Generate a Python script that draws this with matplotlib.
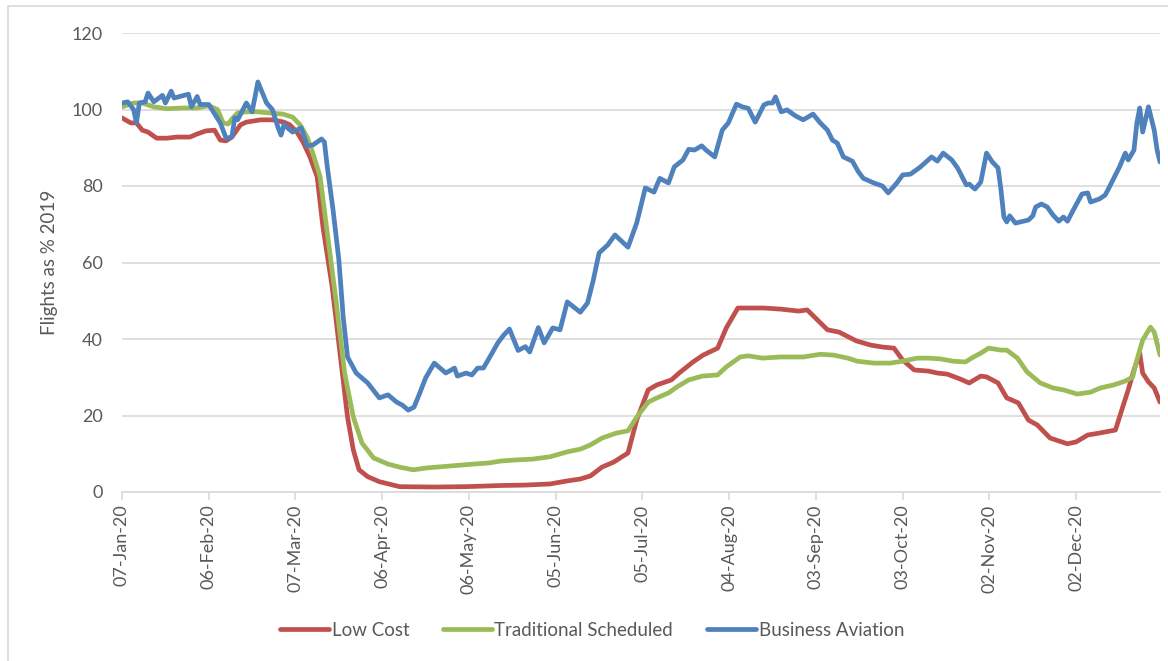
import numpy as np
import pandas as pd
import matplotlib
matplotlib.use("Agg")
import matplotlib.pyplot as plt
import matplotlib.dates as mdates
from matplotlib.patches import Rectangle

plt.rcParams['font.family'] = ['Lato', 'DejaVu Sans']

start = pd.Timestamp("2020-01-07")

# days after 07-Jan-20, values as % of 2019 flights
low_days = [0, 3, 5, 7, 9, 12, 15.5, 19, 23.5, 26, 29, 32, 34, 36, 38, 41, 43, 48, 52, 56,
            58, 60.5, 62.6, 65, 67.5, 69.5, 72.7, 75.4, 78, 80, 82, 85, 89, 96, 108, 119,
            131, 139, 148, 154, 158.5, 162, 166, 170, 175, 178, 182, 185, 190, 193, 197.5,
            201, 206, 209, 213, 222, 228, 234, 237, 240.5, 244, 248, 254, 259, 263, 267,
            270, 274, 279, 282, 285.5, 290, 293, 297, 299, 303, 306, 310, 313.5, 316.6,
            321, 327, 330, 334, 338, 343.6, 345, 348, 350, 352, 353, 355, 357, 359]
low_vals = [97.8, 96.5, 96.5, 94.6, 94.1, 92.5, 92.5, 92.8, 92.8, 93.6, 94.4, 94.6, 92.0,
            91.8, 92.8, 96.0, 96.7, 97.3, 97.3, 96.7, 96.0, 94.1, 91.5, 87.6, 82.4, 69.3,
            53.6, 36.3, 19.6, 11.0, 5.8, 4.0, 2.7, 1.4, 1.3, 1.4, 1.7, 1.8, 2.1, 2.9, 3.4,
            4.2, 6.5, 7.8, 10.2, 18.8, 26.7, 28.0, 29.3, 31.3, 34.0, 35.8, 37.6, 42.9, 48.1,
            48.1, 47.8, 47.3, 47.6, 45.0, 42.4, 41.8, 39.5, 38.4, 37.9, 37.6, 34.5, 31.9,
            31.6, 31.1, 30.8, 29.5, 28.5, 30.3, 30.1, 28.5, 24.6, 23.3, 18.8, 17.5, 14.1,
            12.6, 13.1, 14.9, 15.4, 16.2, 19.6, 26.7, 31.9, 36.3, 31.1, 28.8, 27.2, 23.5]

trad_days = [0, 4, 7, 11, 15.5, 21, 26, 30, 33, 35, 36.7, 38, 40, 43, 46.7, 51, 55.7, 59,
             61.6, 64, 66, 68.5, 71, 74, 77, 80, 83, 87, 92, 96, 100.7, 105.5, 113.5, 121.5,
             127, 131, 136.7, 142, 148, 154, 158.5, 162, 166, 171, 175, 178.5, 182, 185,
             189, 192, 196, 200.7, 206, 209, 213.8, 216.6, 221.5, 227.7, 235.6, 241.5, 246,
             251, 254.3, 260, 265.7, 270, 275, 279, 283, 287.5, 291.7, 294.5, 297, 299.7,
             304, 306, 309.7, 313, 317.6, 322, 325.6, 330.4, 335, 338.4, 343, 347, 349.5,
             351, 353, 355.7, 357, 359]
trad_vals = [100.7, 101.7, 101.7, 100.7, 100.2, 100.4, 100.4, 101.0, 100.0, 96.5, 96.2,
             97.5, 99.1, 99.4, 99.4, 99.1, 98.8, 98.0, 96.0, 92.8, 88.6, 82.5, 67.7, 50.2,
             31.1, 19.6, 12.8, 8.9, 7.3, 6.5, 5.8, 6.3, 6.8, 7.3, 7.6, 8.1, 8.4, 8.6, 9.2,
             10.5, 11.2, 12.3, 14.1, 15.4, 16.0, 20.1, 23.5, 24.6, 25.9, 27.5, 29.3, 30.3,
             30.6, 32.7, 35.3, 35.6, 35.0, 35.3, 35.3, 36.0, 35.8, 35.0, 34.2, 33.7, 33.7,
             34.2, 35.0, 35.0, 34.8, 34.2, 34.0, 35.3, 36.3, 37.6, 37.1, 37.1, 35.0, 31.4,
             28.5, 27.2, 26.7, 25.6, 26.1, 27.2, 28.0, 29.0, 30.0, 34.5, 39.7, 43.1, 41.8,
             35.8]

bus_days = [0, 2, 4, 5, 6, 8, 9, 11, 14, 15, 17, 18, 23, 24, 26, 27, 30, 34, 36, 38, 39,
            40, 43, 45, 47, 50, 52, 54, 55, 56, 59, 62, 64, 66, 69, 70, 71, 73, 75, 76.5,
            78, 81, 85, 89, 92, 95, 97, 99, 101, 103, 105, 108, 112, 115, 116, 119, 121,
            123, 125, 127, 130, 132, 134, 137, 139.5, 141, 144, 146, 149, 151.5, 154, 158.5,
            161, 163, 165, 168, 170.5, 173, 175, 178, 181, 184, 186, 189, 191, 194, 196,
            198, 200.5, 202, 205, 207.6, 209.7, 212.5, 214.5, 216.6, 219, 222, 223.5, 225,
            226, 228, 230, 233, 235.6, 239, 241.5, 244, 245.7, 247.4, 249.5, 252.6, 254.7,
            256.4, 260, 263, 265, 268, 270, 272.7, 276, 280, 282, 284, 287, 289, 292, 293,
            295, 297, 299, 301, 303, 304, 305, 306, 307, 309, 313.5, 315, 316, 318, 320,
            322, 324, 325.6, 327, 329, 332, 334, 335, 338, 340, 341, 343, 345, 347, 348,
            350, 351, 352, 353, 355, 357, 358, 359]
bus_vals = [101.7, 102.0, 100.0, 96.5, 101.7, 102.0, 104.3, 102.0, 103.7, 101.7, 104.8,
            103.0, 104.0, 100.7, 103.4, 101.3, 101.3, 96.5, 92.5, 92.8, 97.8, 97.3, 101.7,
            99.4, 107.2, 101.7, 100.0, 95.2, 93.3, 96.0, 94.1, 95.2, 90.5, 90.7, 92.3, 91.5,
            85.0, 73.7, 60.7, 45.8, 35.3, 31.1, 28.5, 24.6, 25.4, 23.5, 22.7, 21.4, 22.2,
            25.9, 29.8, 33.7, 31.1, 32.4, 30.3, 31.1, 30.6, 32.4, 32.4, 35.0, 39.0, 41.0,
            42.6, 37.0, 38.0, 36.6, 43.0, 39.0, 42.9, 42.4, 49.7, 47.0, 49.4, 55.4, 62.5,
            64.6, 67.2, 65.4, 64.0, 70.3, 79.5, 78.4, 82.0, 80.8, 85.0, 86.8, 89.6, 89.4,
            90.5, 89.4, 87.6, 94.6, 96.5, 101.4, 100.7, 100.3, 96.7, 101.2, 101.7, 101.7,
            103.3, 99.4, 99.9, 98.3, 97.3, 98.8, 96.5, 94.6, 92.0, 91.2, 87.6, 86.5, 83.7,
            82.0, 80.8, 80.0, 78.2, 80.8, 82.9, 83.1, 84.9, 87.6, 86.5, 88.6, 86.8, 84.7,
            80.3, 80.5, 79.2, 81.0, 88.6, 86.3, 84.7, 79.0, 71.9, 70.6, 72.2, 70.3, 71.1,
            72.2, 74.5, 75.3, 74.5, 72.4, 70.8, 71.9, 70.8, 73.7, 77.9, 78.2, 75.8, 76.6,
            77.6, 79.0, 82.0, 85.0, 88.6, 86.8, 89.4, 96.5, 100.4, 94.1, 100.7, 94.6, 89.4,
            86.3]


def to_dates(days):
    return start + pd.to_timedelta(np.array(days, dtype=float), unit="D")


text_color = "#595959"
grid_color = "#D9D9D9"

fig = plt.figure(figsize=(11.68, 6.61), dpi=100)
ax = fig.add_axes([122 / 1168, 1 - 492 / 661, (1160 - 122) / 1168, (492 - 33) / 661])

series = [
    (low_days, low_vals, "#C0504D", "Low Cost"),
    (trad_days, trad_vals, "#9BBB59", "Traditional Scheduled"),
    (bus_days, bus_vals, "#4F81BD", "Business Aviation"),
]
for days, vals, color, name in series:
    ax.plot(to_dates(days), vals, color=color, lw=3.4, label=name,
            solid_capstyle="round", solid_joinstyle="round")

ax.set_ylim(0, 120)
ax.set_yticks(np.arange(0, 121, 20))
ax.set_xlim(start, start + pd.Timedelta(days=359))
ax.set_xticks(to_dates(np.arange(0, 331, 30)))
ax.xaxis.set_major_formatter(mdates.DateFormatter("%d-%b-%y"))
ax.yaxis.grid(True, color=grid_color, lw=1.2)
ax.set_axisbelow(True)

for side in ["top", "right", "left"]:
    ax.spines[side].set_visible(False)
ax.spines["bottom"].set_color(grid_color)
ax.spines["bottom"].set_linewidth(1.2)

ax.tick_params(axis="y", length=0, pad=14, labelsize=13, labelcolor=text_color)
ax.tick_params(axis="x", length=6, width=1.2, color=grid_color, pad=3,
               labelsize=13, labelcolor=text_color, labelrotation=90)
ax.set_ylabel("Flights as % 2019", fontsize=13.5, color=text_color, labelpad=10)

fig.legend(loc="center", bbox_to_anchor=(592 / 1168, 1 - 630 / 661), ncol=3,
           frameon=False, fontsize=13.5, labelcolor=text_color, handlelength=2.6,
           handletextpad=0.15, columnspacing=1.8)

# thin frame around the chart area
fig.patches.append(Rectangle((8 / 1168, -0.05), 1.1, 1 - 6 / 661 + 0.05,
                             transform=fig.transFigure, fill=False,
                             edgecolor=grid_color, lw=1.2))

fig.savefig("out.png", dpi=100)
